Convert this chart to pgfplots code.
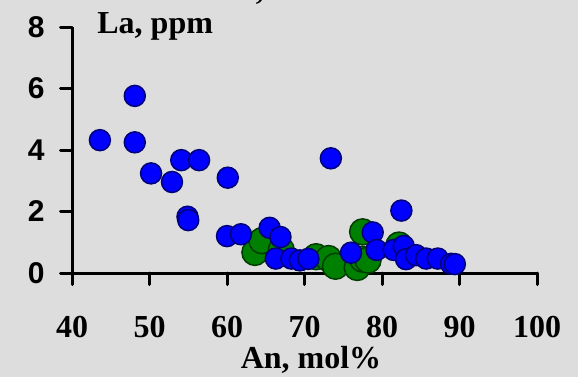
\documentclass[border=0pt]{standalone}
\usepackage{pgfplots}
\pgfplotsset{compat=1.18}
\usepackage{fontspec}
\setmainfont{Liberation Serif}
\newfontfamily\arialfont{Liberation Sans}
\definecolor{bg}{RGB}{221,221,221}
\definecolor{mblue}{RGB}{0,0,255}
\definecolor{mblueedge}{RGB}{0,0,120}
\definecolor{mgreen}{RGB}{0,128,0}
\definecolor{mgreenedge}{RGB}{0,60,0}
\begin{document}
\begin{tikzpicture}
\useasboundingbox (0,0) rectangle (289pt,188.5pt);
\clip (0,0) rectangle (289pt,188.5pt);
\fill[bg] (0,0) rectangle (289pt,188.5pt);
\begin{axis}[
  at={(36pt,52pt)}, anchor=south west,
  scale only axis, width=232.5pt, height=123pt,
  xmin=40, xmax=100, ymin=0, ymax=8,
  axis x line*=bottom, axis y line*=left,
  axis line style={line width=1.5pt, -},
  xtick={40,50,...,100}, ytick={0,2,...,8},
  tick align=outside, major tick length=5.75pt,
  tick style={line width=1.5pt, black, line cap=round},
  /pgf/number format/assume math mode=true,
  xticklabel style={font=\bfseries\fontsize{16}{16}\selectfont, anchor=north, inner sep=0pt, yshift=-15.5pt},
  yticklabel style={font=\arialfont\bfseries\fontsize{15}{15}\selectfont, anchor=east, inner sep=0pt, xshift=-7.75pt},
  clip=false,
]
\addplot[only marks, mark=*, mark size=6.5pt, mark options={fill=mgreen, draw=mgreenedge, line width=0.75pt}] coordinates {
(63.6,0.67) (64.5,1.05) (67.0,0.75) (71.5,0.53) (73.1,0.47) (74.0,0.22)
(76.8,0.18) (77.5,1.34) (77.5,0.45) (78.2,0.42) (82.2,0.91)
};
\addplot[only marks, mark=*, mark size=5.25pt, mark options={fill=mblue, draw=mblueedge, line width=0.75pt}] coordinates {
(43.6,4.32) (48.1,5.76) (48.1,4.25) (50.2,3.24) (52.9,2.96) (54.1,3.67)
(56.4,3.67) (60.1,3.10) (54.9,1.83) (55.0,1.72) (60.0,1.20) (61.8,1.26)
(65.5,1.47) (66.9,1.17) (66.3,0.47) (68.3,0.47) (69.4,0.41) (70.5,0.46)
(73.4,3.73) (76.0,0.66) (78.8,1.32) (79.3,0.75) (81.5,0.75) (82.5,2.03)
(82.8,0.88) (83.1,0.45) (84.4,0.58) (85.7,0.47) (87.2,0.47) (88.9,0.30)
(89.4,0.29)
};
\end{axis}
\node[anchor=base west, inner sep=0pt, font=\bfseries\fontsize{16}{16}\selectfont] at (48.5pt,172pt) {La, ppm};
\node[anchor=base, inner sep=0pt, font=\bfseries\fontsize{16}{16}\selectfont] at (155.5pt,4.5pt) {An, mol\%};
\node[anchor=base west, inner sep=0pt, font=\bfseries\fontsize{16}{16}\selectfont] at (113.5pt,188.9pt) {Pl, core};
\end{tikzpicture}
\end{document}
